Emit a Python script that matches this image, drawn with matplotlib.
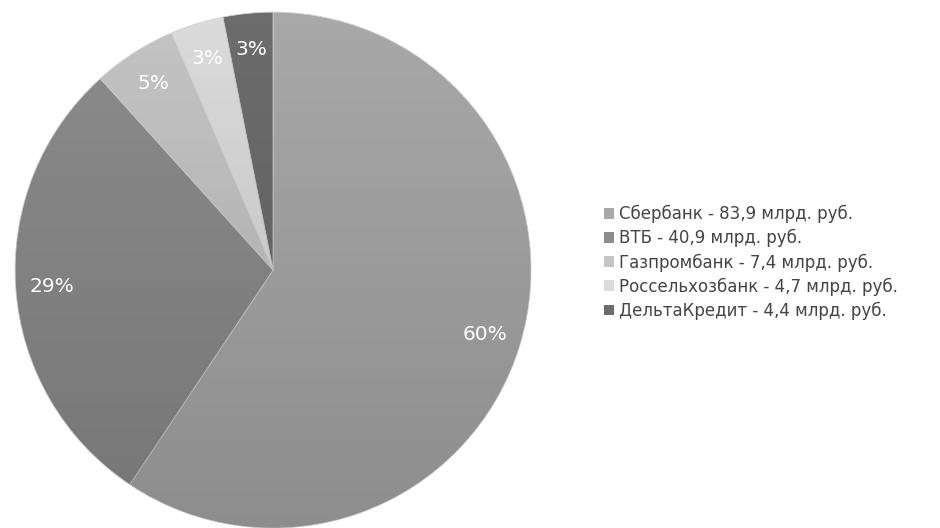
import numpy as np
import matplotlib.pyplot as plt
from matplotlib.patches import Circle

banks = ["Сбербанк", "ВТБ", "Газпромбанк", "Россельхозбанк", "ДельтаКредит"]
amounts = [83.9, 40.9, 7.4, 4.7, 4.4]
pct_labels = ["60%", "29%", "5%", "3%", "3%"]
legend_labels = [
    "Сбербанк - 83,9 млрд. руб.",
    "ВТБ - 40,9 млрд. руб.",
    "Газпромбанк - 7,4 млрд. руб.",
    "Россельхозбанк - 4,7 млрд. руб.",
    "ДельтаКредит - 4,4 млрд. руб.",
]
colors = ["#a8a8a8", "#8c8c8c", "#c4c4c4", "#dbdbdb", "#6c6c6c"]

plt.rcParams['font.family'] = ['DejaVu Sans']

fig = plt.figure(figsize=(9.4, 5.28), dpi=100)
ax = fig.add_axes([0.016, 0.0, 0.549, 0.977])

wedges, texts = ax.pie(
    amounts, colors=colors, startangle=90, counterclock=False,
    labels=pct_labels, labeldistance=0.86, radius=1.0,
    wedgeprops=dict(edgecolor="#d0d0d0", linewidth=0.6),
    textprops=dict(color="white", fontsize=14.5),
)
for t in texts:
    t.set_horizontalalignment("center")
    t.set_verticalalignment("center")
    t.set_zorder(4)

# soft vertical shading (darker towards the bottom), like the original
grad = np.linspace(0, 1, 256).reshape(-1, 1)
rgba = np.zeros((256, 1, 4))
rgba[..., 3] = 0.16 * (1 - grad)
img = ax.imshow(rgba, extent=(-1, 1, -1, 1), origin="lower", aspect="auto", zorder=3)
img.set_clip_path(Circle((0, 0), 1.0, transform=ax.transData))

ax.set_xlim(-1.0, 1.0)
ax.set_ylim(-1.0, 1.0)
ax.set_aspect("equal")
ax.axis("off")

leg = fig.legend(
    wedges, legend_labels, loc="center left", bbox_to_anchor=(0.627, 0.503),
    frameon=False, fontsize=12, handlelength=0.6, handleheight=0.6,
    handletextpad=0.3, labelspacing=0.35, labelcolor="#444444",
)
for h in leg.legend_handles:
    h.set_edgecolor("none")

fig.savefig("out.png", dpi=100, facecolor="white")
